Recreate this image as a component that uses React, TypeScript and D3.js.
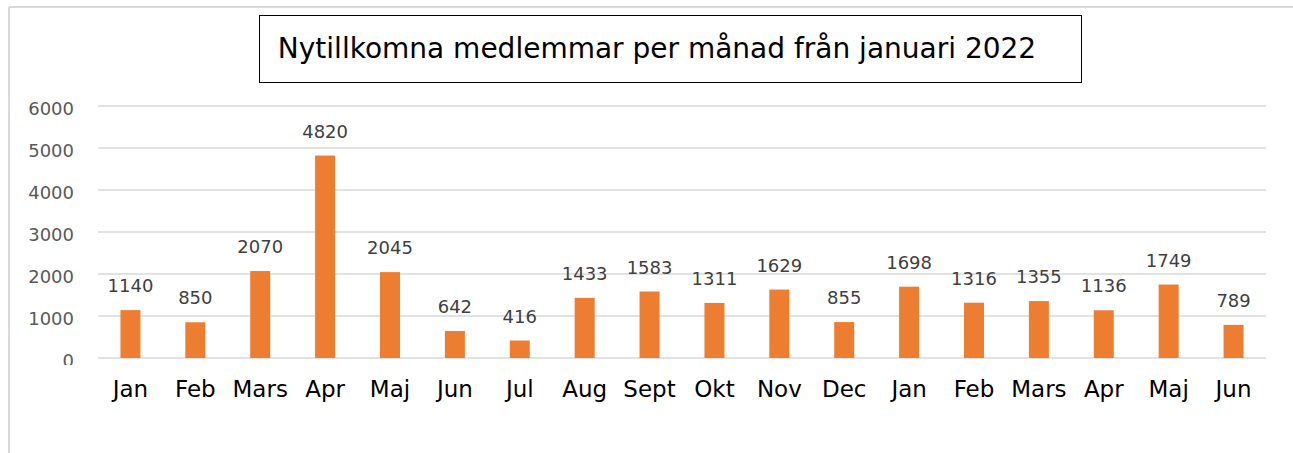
import React from "react";
import * as d3 from "d3";

const categories = ["Jan", "Feb", "Mars", "Apr", "Maj", "Jun", "Jul", "Aug", "Sept", "Okt", "Nov", "Dec", "Jan", "Feb", "Mars", "Apr", "Maj", "Jun"];
const values = [1140, 850, 2070, 4820, 2045, 642, 416, 1433, 1583, 1311, 1629, 855, 1698, 1316, 1355, 1136, 1749, 789];
const yTicks = [0, 1000, 2000, 3000, 4000, 5000, 6000];
const title = "Nytillkomna medlemmar per månad från januari 2022";

const W = 1293, H = 453;
const FONT = "'DejaVu Sans', sans-serif";

export default function App() {
  const x = d3.scaleBand<number>().domain(d3.range(categories.length)).range([98, 1266]).paddingInner(0).paddingOuter(0);
  const y = d3.scaleLinear().domain([0, 6000]).range([358, 106]);
  const barW = 20;
  return (
    <svg width={W} height={H} style={{ position: "absolute", left: 0, top: 0, background: "#fff" }} fontFamily={FONT}>
      <defs>
        <clipPath id="tickclip">
          <rect x={0} y={0} width={100} height={365} />
        </clipPath>
      </defs>
      <rect x={0} y={0} width={W} height={H} fill="#fff" />
      <line x1={9} y1={7} x2={W} y2={7} stroke="#d9d9d9" strokeWidth={2} />
      <line x1={9} y1={7} x2={9} y2={H} stroke="#d9d9d9" strokeWidth={2} />
      <rect x={259.5} y={15.5} width={822} height={67} fill="#fff" stroke="#000" strokeWidth={1} />
      <text x={657} y={58} textAnchor="middle" fontSize={28} fill="#000">{title}</text>
      {yTicks.map((t) => (
        <g key={t}>
          <line x1={98} x2={1266} y1={y(t)} y2={y(t)} stroke="#d9d9d9" strokeWidth={1.5} />
          <text x={74} y={y(t) + 8.5} textAnchor="end" fontSize={18} fill="#595959" clipPath="url(#tickclip)">{t}</text>
        </g>
      ))}
      {values.map((v, i) => {
        const cx = (x(i) as number) + x.bandwidth() / 2;
        return (
          <g key={i}>
            <rect x={cx - barW / 2} y={y(v)} width={barW} height={y(0) - y(v)} fill="#ED7D31" />
            <text x={cx} y={y(v) - 18} textAnchor="middle" fontSize={18} fill="#404040">{v}</text>
            <text x={cx} y={397} textAnchor="middle" fontSize={23} fill="#000">{categories[i]}</text>
          </g>
        );
      })}
    </svg>
  );
}
